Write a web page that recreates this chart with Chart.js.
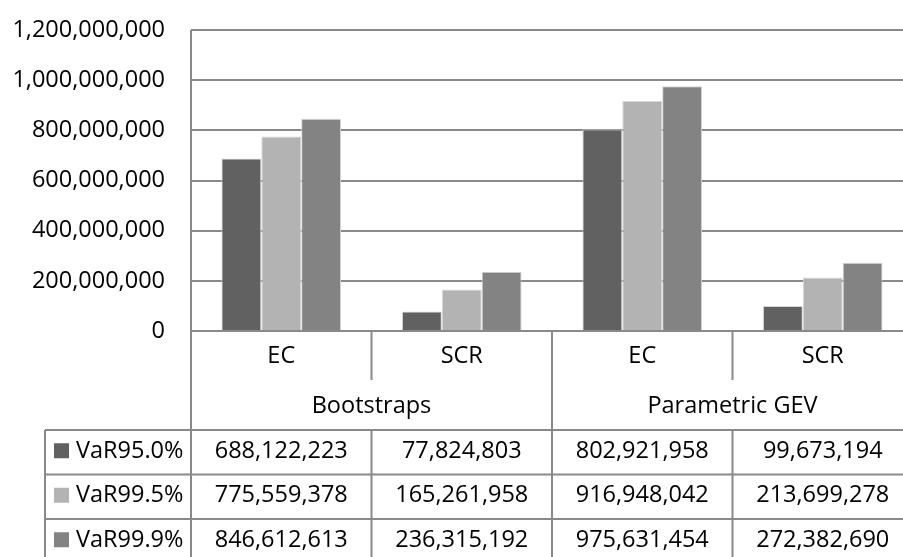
<!DOCTYPE html>
<html>
<head>
<meta charset="utf-8">
<script src="https://cdn.jsdelivr.net/npm/chart.js@4/dist/chart.umd.min.js"></script>
<style>
  html, body { margin: 0; padding: 0; background: #fff; overflow: hidden; }
  #wrap { width: 913px; height: 557px; }
</style>
</head>
<body>
<div id="wrap"><canvas id="c" width="913" height="557"></canvas></div>
<script>
// Method groups and the two measures shown inside each group
const groups = ['Bootstraps', 'Parametric GEV'];
const categories = ['EC', 'SCR', 'EC', 'SCR'];

// Series names and values (order: Bootstraps EC, Bootstraps SCR, GEV EC, GEV SCR)
const seriesNames = ['VaR95.0%', 'VaR99.5%', 'VaR99.9%'];
const var950 = [688122223, 77824803, 802921958, 99673194];
const var995 = [775559378, 165261958, 916948042, 213699278];
const var999 = [846612613, 236315192, 975631454, 272382690];

// Value axis
const yMin = 0;
const yMax = 1200000000;
const yStep = 200000000;

const seriesValues = [var950, var995, var999];
const seriesColors = ['#616161', '#b3b3b3', '#838383'];

const FONT = '"Open Sans", "Noto Sans", sans-serif';
const FONT_SIZE = 23.5;
const LINE = '#898989';
const fmt = v => v.toLocaleString('en-US');

// Draws the category rows, group rows and the data table under the plot
const tablePlugin = {
  id: 'dataTable',
  afterDraw(chart) {
    const ctx = chart.ctx;
    const area = chart.chartArea;
    const xs = chart.scales.x;
    const n = categories.length;
    const colW = (area.right - area.left) / n;
    const edge = i => area.left + i * colW;
    const catRowBottom = area.bottom + 49;
    const groupRowBottom = area.bottom + 99;
    const rowH = 44.5;
    const tableLeft = 45;
    const bottom = chart.height;

    ctx.save();
    ctx.strokeStyle = LINE;
    ctx.lineWidth = 2;
    ctx.beginPath();
    // value axis line, running down through the category rows and table
    ctx.moveTo(area.left, area.top);
    ctx.lineTo(area.left, bottom);
    // separators between categories; group boundaries run the full depth
    for (let i = 1; i < n; i++) {
      const x = edge(i);
      const groupBoundary = (i % 2 === 0);
      ctx.moveTo(x, area.bottom);
      ctx.lineTo(x, groupBoundary ? bottom : catRowBottom);
    }
    // table row lines
    for (let r = 0; r < seriesNames.length; r++) {
      const y = groupRowBottom + r * rowH;
      ctx.moveTo(tableLeft, y);
      ctx.lineTo(chart.width, y);
    }
    // table column lines
    ctx.moveTo(tableLeft, groupRowBottom);
    ctx.lineTo(tableLeft, bottom);
    for (let i = 1; i < n; i++) {
      ctx.moveTo(edge(i), groupRowBottom);
      ctx.lineTo(edge(i), bottom);
    }
    ctx.stroke();

    ctx.fillStyle = '#000';
    ctx.font = FONT_SIZE + 'px ' + FONT;
    ctx.textAlign = 'center';
    ctx.textBaseline = 'middle';
    // category labels
    categories.forEach((c, i) => {
      ctx.fillText(c, xs.getPixelForValue(i), area.bottom + 25);
    });
    // group labels
    groups.forEach((g, gi) => {
      const cx = (edge(gi * 2) + edge(gi * 2 + 2)) / 2;
      ctx.fillText(g, cx, area.bottom + 75);
    });
    // table rows: legend key, name, values
    seriesNames.forEach((name, r) => {
      const cy = groupRowBottom + r * rowH + rowH / 2;
      ctx.fillStyle = seriesColors[r];
      ctx.fillRect(54, cy - 9, 15, 15);
      ctx.fillStyle = '#000';
      ctx.textAlign = 'left';
      ctx.fillText(name, 76, cy - 1);
      ctx.textAlign = 'center';
      seriesValues[r].forEach((v, i) => {
        ctx.fillText(fmt(v), xs.getPixelForValue(i), cy - 1);
      });
    });
    ctx.restore();
  }
};

new Chart(document.getElementById('c'), {
  type: 'bar',
  data: {
    labels: categories,
    datasets: seriesNames.map((name, k) => ({
      label: name,
      data: seriesValues[k],
      backgroundColor: seriesColors[k],
      borderColor: '#d6d6d6',
      borderWidth: 1,
      categoryPercentage: 0.663,
      barPercentage: 1.0
    }))
  },
  options: {
    responsive: false,
    animation: false,
    layout: { padding: { top: 30, bottom: 226, left: 0, right: 0 } },
    plugins: { legend: { display: false }, tooltip: { enabled: false } },
    scales: {
      x: { display: false },
      y: {
        min: yMin,
        max: yMax,
        afterFit(scale) {
          scale.width = 191;
          scale.paddingTop = 0;
          scale.paddingBottom = 0;
        },
        border: { display: false },
        grid: { color: LINE, lineWidth: 2, drawTicks: false },
        ticks: {
          stepSize: yStep,
          padding: 26,
          color: '#000',
          font: { family: FONT, size: FONT_SIZE },
          callback: v => fmt(v)
        }
      }
    }
  },
  plugins: [tablePlugin]
});
</script>
</body>
</html>
